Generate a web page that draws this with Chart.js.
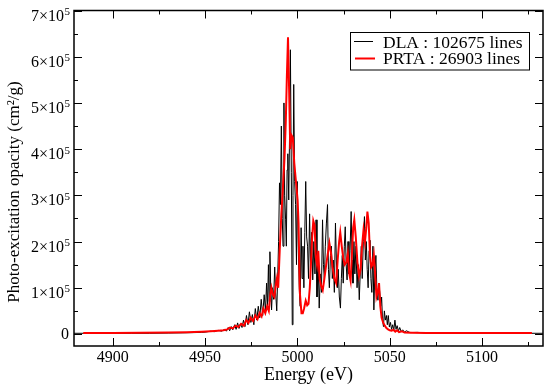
<!DOCTYPE html>
<html><head><meta charset="utf-8">
<script src="https://cdn.jsdelivr.net/npm/chart.js@4/dist/chart.umd.min.js"></script>
<style>html,body{margin:0;padding:0;background:#fff}#wrap{width:545px;height:386px;position:relative}</style>
</head><body><div id="wrap"><canvas id="c"></canvas></div>
<script>
// ---- DATA ----
const dlaEnergy = [4879,4890,4900,4910,4920,4930,4938,4944,4948,4950,4953,4955,4957,4959,4960.5,4961.5,4962.5,4963.3,4964.2,4965,4966,4966.8,4967.6,4968.4,4969.2,4970,4970.8,4971.6,4972.4,4973.2,4974,4974.8,4975.6,4976.4,4977.2,4978,4978.8,4979.6,4980.4,4981.2,4982,4982.7,4983.3,4983.8,4984.3,4984.7,4985.1,4985.6,4986,4986.5,4987.1,4987.7,4988.2,4988.8,4989.3,4989.8,4990.3,4990.8,4991.3,4991.8,4992.2,4992.7,4993.1,4993.6,4994.0,4994.4,4994.8,4995.3,4995.8,4996.2,4996.7,4997.2,4997.6,4998.0,4998.5,4999.0,4999.5,4999.9,5000.5,5001.0,5001.5,5002.0,5002.5,5003.0,5003.5,5004.0,5004.5,5005.0,5005.5,5006.0,5006.6,5007.1,5007.7,5008.3,5008.9,5009.5,5010.1,5010.6,5011.2,5011.8,5012.4,5013.0,5013.6,5014.1,5014.6,5015.1,5015.7,5016.3,5016.8,5017.3,5017.9,5018.4,5018.9,5019.4,5020.0,5020.6,5021.1,5021.6,5022.1,5022.7,5023.3,5023.8,5024.3,5024.8,5025.4,5025.9,5026.4,5026.9,5027.4,5027.9,5028.5,5029.1,5029.6,5030.1,5030.6,5031.1,5031.7,5032.3,5032.9,5033.5,5034.1,5034.6,5035.1,5035.7,5036.3,5036.8,5037.3,5037.8,5038.3,5038.8,5039.3,5039.8,5040.3,5040.9,5041.4,5041.9,5042.5,5043.0,5043.6,5044.1,5044.6,5045.1,5045.6,5046.1,5046.6,5047.1,5047.6,5048.2,5048.7,5049.2,5049.8,5050.4,5051.0,5051.6,5052.2,5052.8,5053.4,5054.0,5054.7,5055.4,5056.2,5057.0,5058,5059,5061,5065,5070,5080,5100,5120,5133];
const dlaOpacity = [1500,1500,1500,1500,1500,2000,2500,3000,3500,4000,6000,5000,8000,6000,10000,6000,14000,7000,16000,9000,20000,10000,24000,12000,22000,14000,30000,16000,40000,20000,48000,25000,42000,20000,55000,30000,60000,35000,75000,40000,85000,50000,110000,60000,150000,70000,178000,90000,52000,100000,75000,145000,90000,50000,120000,200000,327000,280000,450000,250000,190000,500000,300000,247000,190000,355000,390000,290000,450000,615000,350000,20000,300000,540000,330000,280000,150000,330000,180000,100000,60000,230000,120000,190000,100000,220000,330000,210000,190000,120000,260000,150000,220000,117000,200000,130000,247000,80000,160000,56000,130000,90000,247000,150000,117000,190000,240000,280000,140000,100000,170000,190000,120000,160000,90000,240000,160000,100000,140000,80000,56000,120000,170000,110000,190000,232000,150000,117000,200000,130000,180000,265000,160000,110000,200000,130000,190000,100000,150000,74000,140000,190000,120000,200000,254000,160000,200000,140000,100000,180000,203000,120000,90000,190000,52000,130000,170000,100000,73000,110000,90000,60000,80000,30000,16000,50000,30000,40000,20000,40000,15000,25000,10000,20000,8000,30000,10000,18000,6000,14000,5000,9000,4000,7000,3000,3500,2000,2000,1500,1500,1500];
const prtaEnergy = [4884,4900,4915,4930,4940,4948,4953,4957,4960,4962,4963.5,4965,4966.5,4968,4969.5,4971,4972.3,4973.5,4974.7,4976,4977.2,4978.4,4979.5,4980.6,4981.6,4982.6,4983.6,4984.5,4985.3,4985.9,4986.7,4987.5,4988.3,4988.9,4989.6,4990.4,4991.3,4992.2,4993.0,4993.7,4994.3,4994.9,4995.5,4996.1,4996.8,4997.5,4998.3,4999.2,5000.1,5000.6,5001.3,5002.2,5002.9,5003.6,5004.5,5005.3,5006.0,5006.7,5007.3,5008.0,5008.6,5009.3,5010.0,5010.6,5011.3,5012.0,5012.8,5013.7,5014.6,5015.6,5016.5,5017.3,5018.2,5019.0,5020.0,5021.0,5021.8,5022.6,5023.2,5024.0,5024.8,5025.6,5026.5,5027.3,5028.1,5028.8,5029.5,5030.2,5030.8,5031.6,5032.5,5033.4,5034.2,5035.0,5035.8,5036.6,5037.3,5037.9,5038.6,5039.3,5040.0,5040.7,5041.4,5042.1,5042.8,5043.5,5044.2,5044.9,5045.6,5046.4,5047.3,5048.2,5049.1,5050.0,5051.0,5052.0,5053.0,5054.0,5055.0,5056.5,5058,5062,5070,5090,5110,5127];
const prtaOpacity = [2000,2000,2500,3000,4000,5000,6000,7000,8000,10000,14000,12000,18000,15000,22000,18000,30000,24000,35000,28000,40000,32000,45000,38000,55000,45000,60000,50000,85000,100000,85000,80000,105000,120000,100000,180000,260000,320000,380000,460000,560000,642000,530000,400000,430000,425000,370000,330000,290000,240000,90000,45000,45000,55000,72000,62000,65000,100000,150000,210000,245000,235000,165000,150000,180000,120000,105000,95000,120000,150000,175000,197000,175000,145000,120000,110000,160000,200000,220000,190000,165000,150000,155000,175000,130000,115000,170000,230000,247000,210000,155000,125000,140000,190000,225000,200000,230000,265000,240000,170000,145000,150000,170000,130000,80000,90000,110000,60000,35000,25000,18000,13000,10000,8000,7000,9000,5000,8000,4000,6000,3000,2500,2000,2000,2000,2000];
const seriesNames = ['DLA : 102675 lines', 'PRTA : 26903 lines'];
const xMajorTicks = [4900, 4950, 5000, 5050, 5100];
const xMinorTicks = [4925, 4975, 5025, 5075, 5125];
const yMajorTicks = [0, 100000, 200000, 300000, 400000, 500000, 600000, 700000];
const yMinorTicks = [50000, 150000, 250000, 350000, 450000, 550000, 650000];
const yTickMantissas = ['0', '1×10', '2×10', '3×10', '4×10', '5×10', '6×10', '7×10'];
const yTickExponents = ['', '5', '5', '5', '5', '5', '5', '5'];
const xTitle = 'Energy (eV)';
const yTitle = 'Photo-excitation opacity (cm²/g)';

const SERIF = '"Liberation Serif", "Times New Roman", serif';

const decor = {
  id: 'decor',
  afterDraw(chart) {
    const { ctx, chartArea: a, scales: { x, y } } = chart;
    ctx.save();
    ctx.strokeStyle = '#000';
    ctx.lineWidth = 1;
    ctx.beginPath();
    const xt = (list, len) => list.forEach(v => {
      const px = Math.round(x.getPixelForValue(v)) + 0.5;
      ctx.moveTo(px, a.bottom); ctx.lineTo(px, a.bottom - len);
      ctx.moveTo(px, a.top); ctx.lineTo(px, a.top + len);
    });
    const yt = (list, len) => list.forEach(v => {
      const py = Math.round(y.getPixelForValue(v)) + 0.5;
      ctx.moveTo(a.left, py); ctx.lineTo(a.left + len, py);
      ctx.moveTo(a.right, py); ctx.lineTo(a.right - len, py);
    });
    xt(xMajorTicks, 8); xt(xMinorTicks, 4);
    yt(yMajorTicks, 8); yt(yMinorTicks, 4);
    ctx.stroke();
    ctx.lineWidth = 1.5;
    ctx.strokeRect(a.left, a.top, a.right - a.left, a.bottom - a.top);

    ctx.fillStyle = '#000';
    ctx.font = '16px ' + SERIF;
    ctx.textAlign = 'center';
    ctx.textBaseline = 'alphabetic';
    xMajorTicks.forEach(v => ctx.fillText(String(v), x.getPixelForValue(v), 362));
    const rightX = 70;
    yMajorTicks.forEach((v, i) => {
      const py = y.getPixelForValue(v);
      const exp = yTickExponents[i];
      ctx.textAlign = 'right';
      if (exp) {
        ctx.font = '11px ' + SERIF;
        const w = ctx.measureText(exp).width;
        ctx.fillText(exp, rightX, py + 4.5);
        ctx.font = '16px ' + SERIF;
        ctx.fillText(yTickMantissas[i], rightX - w - 0.5, py + 10);
      } else {
        ctx.font = '16px ' + SERIF;
        ctx.fillText(yTickMantissas[i], rightX - 1, py + 5.5);
      }
    });
    ctx.font = '18px ' + SERIF;
    ctx.textAlign = 'center';
    ctx.fillText(xTitle, (a.left + a.right) / 2, 380);
    ctx.save();
    ctx.translate(19, 192);
    ctx.rotate(-Math.PI / 2);
    ctx.font = '17px ' + SERIF;
    ctx.fillText(yTitle, 0, 0);
    ctx.restore();
    ctx.lineWidth = 1;
    ctx.strokeRect(350.5, 32.5, 179, 37.5);
    ctx.beginPath(); ctx.strokeStyle = '#000'; ctx.lineWidth = 1;
    ctx.moveTo(354, 41.5); ctx.lineTo(373, 41.5); ctx.stroke();
    ctx.beginPath(); ctx.strokeStyle = '#ff0000'; ctx.lineWidth = 2;
    ctx.moveTo(355, 58.5); ctx.lineTo(375, 58.5); ctx.stroke();
    ctx.font = '17.5px ' + SERIF;
    ctx.textAlign = 'left';
    ctx.fillText(seriesNames[0], 383, 47.7);
    ctx.fillText(seriesNames[1], 383, 64.3);
    ctx.restore();
  }
};

new Chart(document.getElementById('c'), {
  type: 'line',
  data: {
    datasets: [
      { label: seriesNames[0], data: dlaEnergy.map((e, i) => ({ x: e, y: dlaOpacity[i] })),
        borderColor: '#000', borderWidth: 1, pointRadius: 0, tension: 0, order: 2 },
      { label: seriesNames[1], data: prtaEnergy.map((e, i) => ({ x: e, y: prtaOpacity[i] })),
        borderColor: '#ff0000', borderWidth: 2, pointRadius: 0, tension: 0, order: 1 }
    ]
  },
  options: {
    responsive: true, maintainAspectRatio: false, animation: false,
    layout: { padding: { left: 74, top: 10.5, right: 2, bottom: 40 } },
    plugins: { legend: { display: false }, tooltip: { enabled: false } },
    scales: {
      x: { type: 'linear', min: 4879, max: 5133, display: false },
      y: { type: 'linear', min: -26000, max: 700000, display: false }
    }
  },
  plugins: [decor]
});
</script></body></html>
